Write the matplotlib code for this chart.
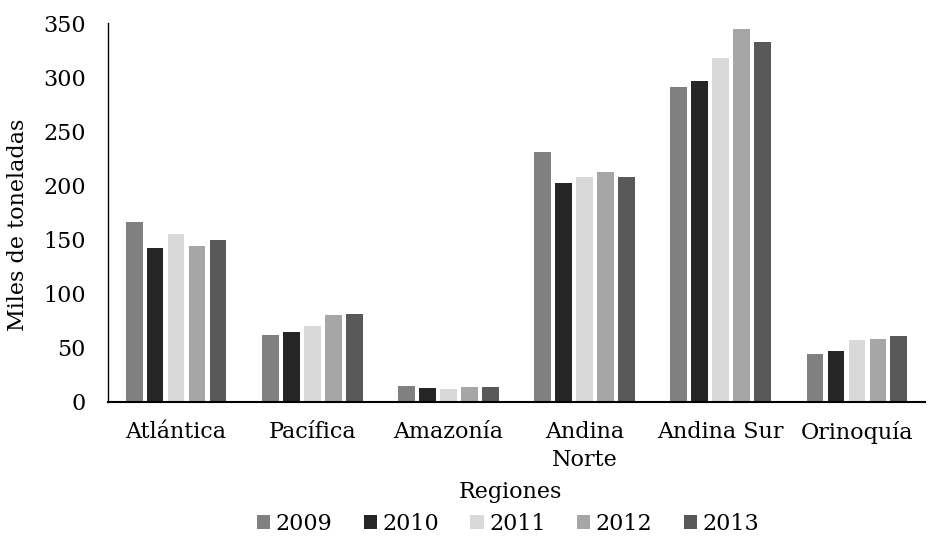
import matplotlib
matplotlib.use("Agg")
import matplotlib.pyplot as plt
import numpy as np

regiones = ["Atlántica", "Pacífica", "Amazonía", "Andina\nNorte", "Andina Sur", "Orinoquía"]
years = ["2009", "2010", "2011", "2012", "2013"]
v2009 = [166, 62, 15, 231, 291, 44]
v2010 = [142, 65, 13, 202, 297, 47]
v2011 = [155, 70, 12, 208, 318, 57]
v2012 = [144, 80, 14, 213, 345, 58]
v2013 = [150, 81, 14, 208, 333, 61]
series = [v2009, v2010, v2011, v2012, v2013]
colors = ["#808080", "#262626", "#d9d9d9", "#a6a6a6", "#595959"]
yticks = [0, 50, 100, 150, 200, 250, 300, 350]

plt.rcParams['font.family'] = ['DejaVu Serif']
fig = plt.figure(figsize=(9.31, 5.37), dpi=100)
ax = fig.add_axes([108/931, 1-402/537, (925-108)/931, (402-23.3)/537])

x = np.arange(len(regiones))
pitch = 0.154
width = 0.123
for i, (vals, c, y) in enumerate(zip(series, colors, years)):
    ax.bar(x + (i - 2) * pitch, vals, width=width, color=c, label=y, zorder=2)

ax.set_xlim(-0.5, len(regiones) - 0.5)
ax.set_ylim(0, 350)
ax.set_yticks(yticks)
ax.set_yticklabels([str(t) for t in yticks], fontsize=16)
ax.set_xticks(x)
ax.set_xticklabels(regiones, fontsize=16, linespacing=1.3)
ax.tick_params(axis='both', length=0)
ax.tick_params(axis='y', pad=16)
ax.tick_params(axis='x', pad=14)
for s in ['top', 'right']:
    ax.spines[s].set_visible(False)
ax.spines['left'].set_linewidth(1.0)
ax.spines['bottom'].set_linewidth(1.5)
ax.spines['left'].set_color('black')
ax.spines['bottom'].set_color('black')

fig.text(18/931, 1-225/537, "Miles de toneladas", rotation=90, fontsize=16,
         ha='center', va='center')
fig.text(510/931, 1-492/537, "Regiones", fontsize=16, ha='center', va='center')

leg = fig.legend(loc='center', bbox_to_anchor=(508/931, 1-524/537), ncol=5,
                 frameon=False, fontsize=16, handlelength=0.6, handleheight=0.6,
                 handletextpad=0.25, columnspacing=1.4)

fig.savefig("out.png", dpi=100)
